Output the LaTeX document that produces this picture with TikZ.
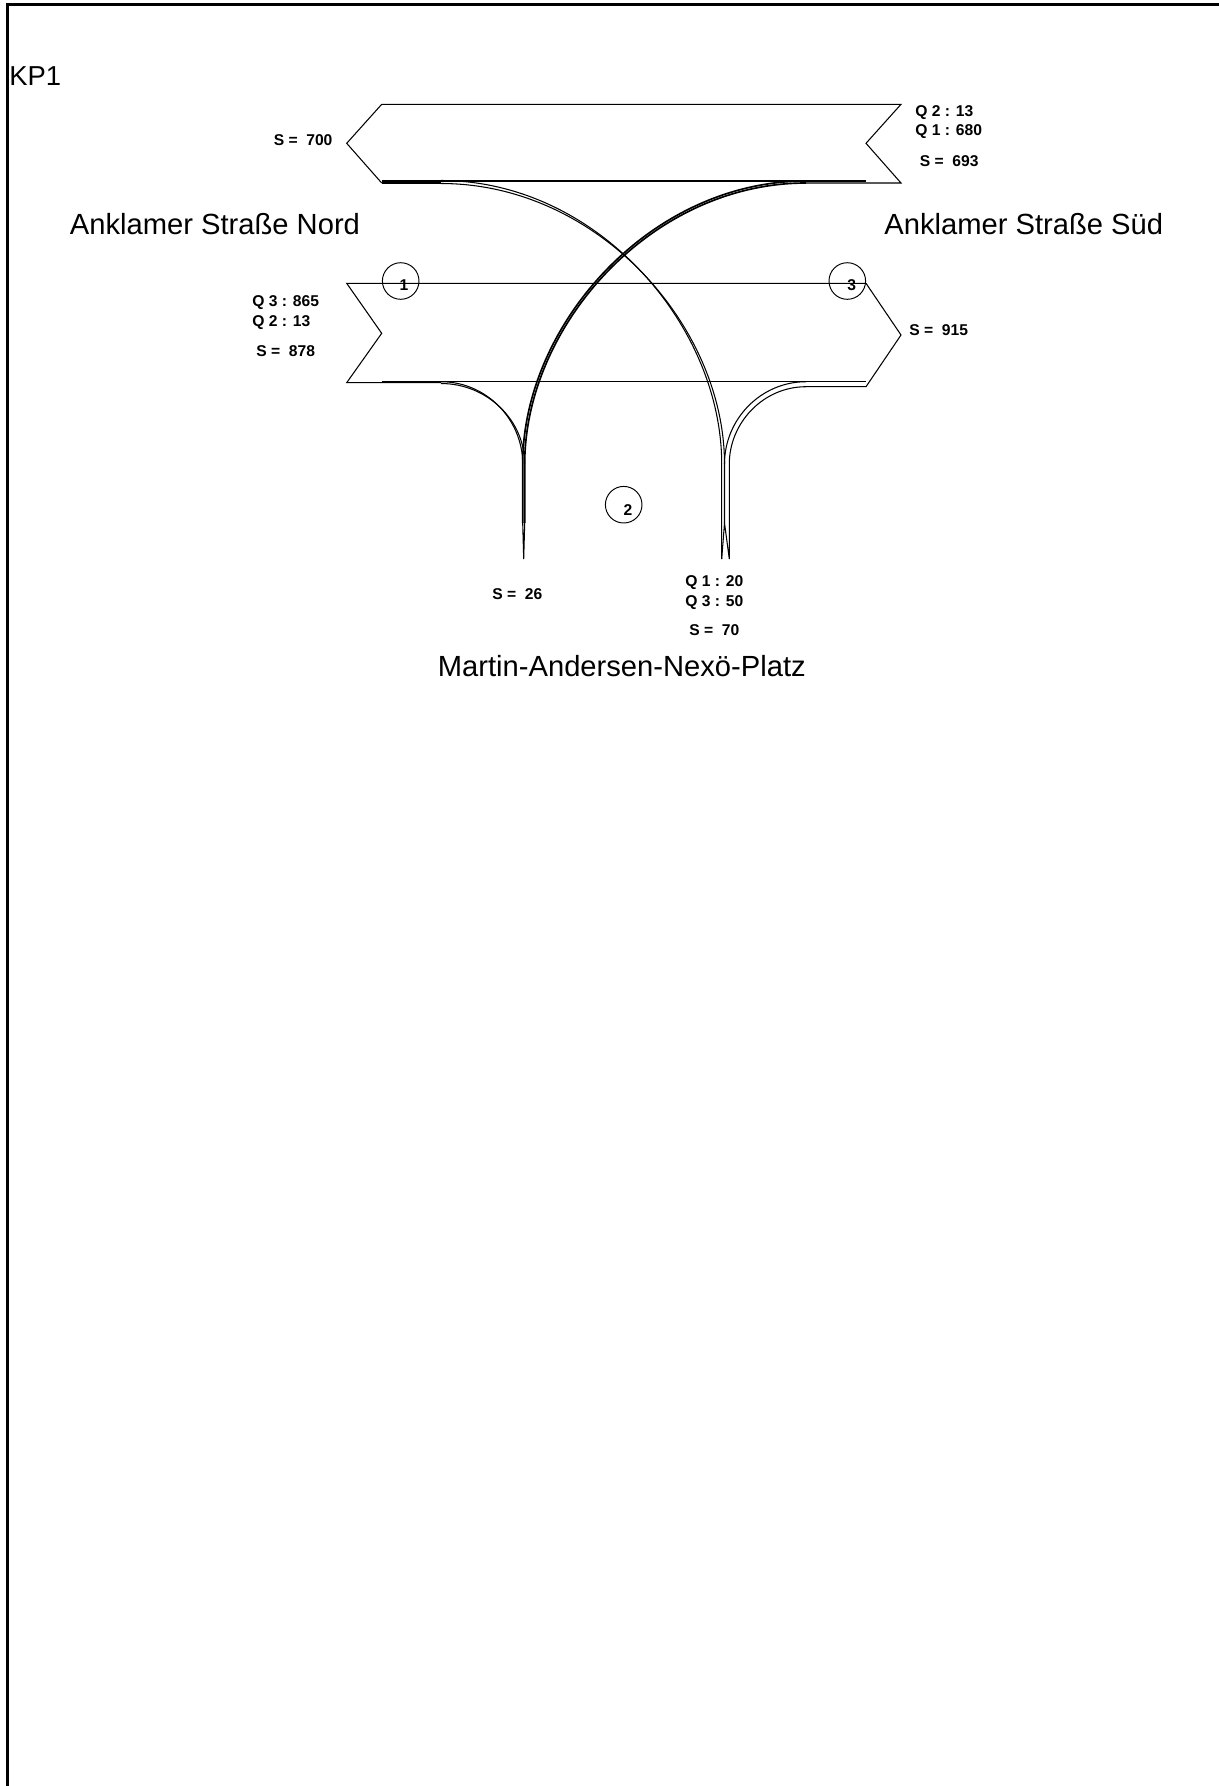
\documentclass[tikz,border=0pt]{standalone}
\usepackage{fontspec}
\setmainfont{Liberation Sans}
\tikzset{
  lane/.style={line width=0.6pt, black},
  heavy/.style={line width=0.95pt, black},
  frameline/.style={line width=1.6pt, black},
  flowlabel/.style={anchor=west, inner sep=0pt, font=\fontsize{8.9}{10}\selectfont\bfseries},
  armlabel/.style={anchor=west, inner sep=0pt, font=\fontsize{16.6}{18}\selectfont},
  zonecircle/.style={draw, circle, line width=0.55pt, minimum size=36.6*0.02cm, inner sep=0pt},
  zonelabel/.style={inner sep=0pt, font=\fontsize{8.9}{10}\selectfont\bfseries},
}
\begin{document}
\begin{tikzpicture}[x=0.02cm, y=-0.02cm]
  \useasboundingbox (0,0) rectangle (1219,1786);

  % Frame
  \draw[frameline] (7.2,1786) -- (7.2,4.7) -- (1219,4.7);

  % Upper arm
  \draw[lane] (381.7,183) -- (346.7,143.3) -- (381.7,104.3) -- (901,104.3)
    -- (866,143.3) -- (901,183) -- (806,183);
  \draw[lane] (381.7,181) -- (866,181);
  \draw[lane] (381.7,183) -- (441,183);

  % Middle arm
  \draw[lane] (441,382.7) -- (346.7,382.7) -- (381.7,333.3) -- (346.7,283.3) -- (866,283.3)
    -- (901,335) -- (866,386.7) -- (806,386.7);
  \draw[lane] (381.7,381.7) -- (866,381.7);

  % Bends to the lower arm
  \draw[lane] (441,180.5) .. controls (597,180.5) and (721.7,325) .. (721.7,464) -- (721.7,559);
  \draw[lane] (441,183.5) .. controls (598,183.5) and (724.5,326) .. (724.5,464) -- (724.5,523);
  \draw[heavy] (806,181) .. controls (650,181) and (522.7,325) .. (522.7,464) -- (522.7,523);
  \draw[heavy] (806,183) .. controls (651,183) and (524.7,326) .. (524.7,464) -- (524.7,523);
  \draw[lane] (441,381.7) .. controls (486,381.7) and (522.7,419) .. (522.7,464);
  \draw[lane] (441,383.5) .. controls (487,383.5) and (524.7,420) .. (524.7,464);
  \draw[lane] (806,381.7) .. controls (761,381.7) and (724.5,419) .. (724.5,464);
  \draw[lane] (806,386.7) .. controls (763,386.7) and (729.3,423) .. (729.3,464) -- (729.3,559)
    -- (724.5,523) -- (721.7,559);
  \draw[lane] (522.7,523) -- (523.7,559) -- (524.7,523);

  % Zones
  \node[zonecircle] (zone1) at (400.7,281) {};
  \node[zonecircle] (zone2) at (623.7,504.7) {};
  \node[zonecircle] (zone3) at (847.3,281) {};
  \node[zonelabel] (num1) at (404,285) {1};
  \node[zonelabel] (num2) at (628,509.7) {2};
  \node[zonelabel] (num3) at (851.7,285.5) {3};

  % Flows
  \node[flowlabel] (s700) at (273.4,140) {S =\ \ 700};
  \node[flowlabel] (q2a) at (915,113) {Q 2 : 13};
  \node[flowlabel] (q1a) at (915,132) {Q 1 : 680};
  \node[flowlabel] (s693) at (919.5,161.6) {S =\ \ 693};
  \node[flowlabel] (q3b) at (252,303) {Q 3 : 865};
  \node[flowlabel] (q2b) at (252,323) {Q 2 : 13};
  \node[flowlabel] (s878) at (256,351) {S =\ \ 878};
  \node[flowlabel] (s915) at (909,330) {S =\ \ 915};
  \node[flowlabel] (s26) at (492,594) {S =\ \ 26};
  \node[flowlabel] (q1c) at (685,582.7) {Q 1 : 20};
  \node[flowlabel] (q3c) at (685,602.7) {Q 3 : 50};
  \node[flowlabel] (s70) at (689,630.5) {S =\ \ 70};

  % Names
  \node[armlabel, font=\fontsize{15.6}{18}\selectfont] (kp) at (9,76) {KP1};
  \node[armlabel] (nord) at (69.5,224) {Anklamer Straße Nord};
  \node[armlabel] (sued) at (884,224) {Anklamer Straße Süd};
  \node[armlabel] (platz) at (437.5,666) {Martin-Andersen-Nexö-Platz};
\end{tikzpicture}
\end{document}
